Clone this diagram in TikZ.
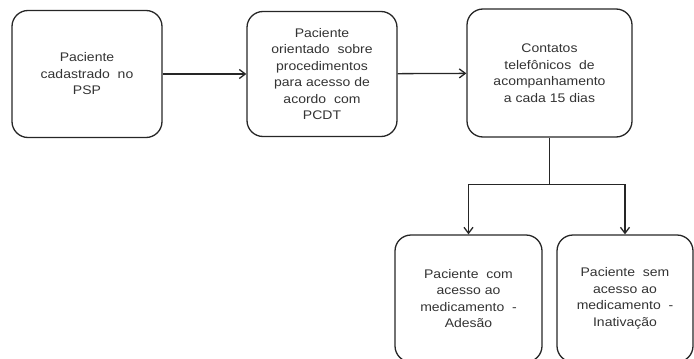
\documentclass[tikz,border=0pt]{standalone}
\usepackage{fontspec}
\setmainfont{Liberation Sans}[FakeStretch=1.12]
\usetikzlibrary{arrows.meta}

\tikzset{
  caixa/.style={draw=black!85, line width=1.3pt, rounded corners=16pt, align=center,
    font=\fontsize{12.5}{16.5}\selectfont, text=black!80},
  seta/.style={draw=black!85, line width=1.3pt, -{Straight Barb[length=6pt,width=9pt]}}
}

\begin{document}
\begin{tikzpicture}[x=1pt,y=1pt]
            % Area do desenho
            \useasboundingbox (0,0) rectangle (694,-359); % Fixa o tamanho da figura
            \clip (0,0) rectangle (694,-359); % Corta as caixas de baixo na borda

            % Caixas da linha de cima
            \node[caixa, minimum width=150pt, minimum height=127pt] (cadastro) at (87,-74) {Paciente\\cadastrado\ \ no\\PSP}; % Primeira etapa
            \node[caixa, minimum width=150pt, minimum height=125pt] (orientado) at (322,-74) {Paciente\\orientado\ \ sobre\\procedimentos\\para acesso de\\acordo\ \ com\\PCDT}; % Segunda etapa
            \node[caixa, minimum width=165pt, minimum height=128pt] (contatos) at (549.5,-73) {Contatos\\telefônicos\ \ de\\acompanhamento\\a cada 15 dias}; % Terceira etapa

            % Caixas de resultado
            \node[caixa, minimum width=147pt, minimum height=127pt] (adesao) at (468.5,-298.5) {Paciente\ \ com\\acesso ao\\medicamento\ \ -\\Adesão}; % Com acesso
            \node[caixa, minimum width=136pt, minimum height=127pt] (inativacao) at (625,-298.5) {Paciente\ \ sem\\acesso ao\\medicamento\ \ -\\Inativação}; % Sem acesso

            % Setas
            \draw[seta] (cadastro) -- (orientado); % Cadastro para orientacao
            \draw[seta] (orientado) -- (contatos); % Orientacao para contatos
            \draw[draw=black!85, line width=1.8pt] (contatos.south) -- ++(0,-47) coordinate (ramo); % Tronco da bifurcacao
            \draw[seta] (ramo) -| (adesao.north); % Ramo para adesao
            \draw[seta] (ramo) -| (inativacao.north); % Ramo para inativacao
\end{tikzpicture}
\end{document}
